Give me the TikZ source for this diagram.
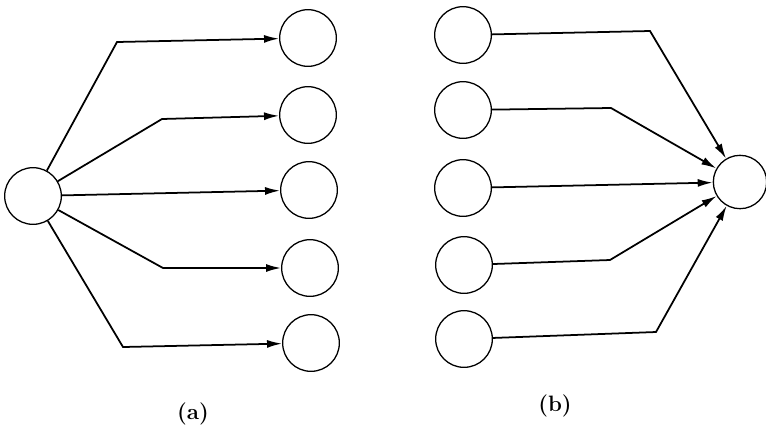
\documentclass[tikz,border=0pt]{standalone}
\usetikzlibrary{arrows.meta}
\begin{document}
\begin{tikzpicture}[x=0.03cm,y=-0.03cm,
  unit/.style={circle,draw,line width=1.1pt,minimum size=1.7cm,inner sep=0pt},
  link/.style={line width=1.5pt,line join=miter},
  arr/.style={link,-{Latex[length=4.5mm,width=2.4mm]}},
  caption/.style={font=\fontsize{19}{22}\selectfont\bfseries}]
\useasboundingbox (0,0) rectangle (766,435);

% (a) one unit feeding five
\node[unit] (s) at (33,196) {};
\node[unit] (t1) at (308,38) {};
\node[unit] (t2) at (308,115) {};
\node[unit] (t3) at (309,190) {};
\node[unit] (t4) at (310,268) {};
\node[unit] (t5) at (311,343) {};
\coordinate (c1) at (117,42);
\coordinate (c2) at (162,119);
\coordinate (c4) at (163,268);
\coordinate (c5) at (123,347);
\draw[arr] (s) -- (c1) -- (t1);
\draw[arr] (s) -- (c2) -- (t2);
\draw[arr] (s) -- (t3);
\draw[arr] (s) -- (c4) -- (t4);
\draw[arr] (s) -- (c5) -- (t5);
\node[caption] (la) at (193,414) {(a)};

% (b) five units feeding one
\node[unit] (u1) at (463,35) {};
\node[unit] (u2) at (463,110) {};
\node[unit] (u3) at (463,188) {};
\node[unit] (u4) at (464,265) {};
\node[unit] (u5) at (464,339) {};
\node[unit,minimum size=1.6cm] (r) at (740,182) {};
\coordinate (d1) at (650,31);
\coordinate (d2) at (611,108);
\coordinate (d4) at (610,260);
\coordinate (d5) at (656,332);
\draw[arr] (u1) -- (d1) -- (r);
\draw[arr] (u2) -- (d2) -- (r);
\draw[arr] (u3) -- (r);
\draw[arr] (u4) -- (d4) -- (r);
\draw[arr] (u5) -- (d5) -- (r);
\node[caption] (lb) at (555,406) {(b)};
\end{tikzpicture}
\end{document}
